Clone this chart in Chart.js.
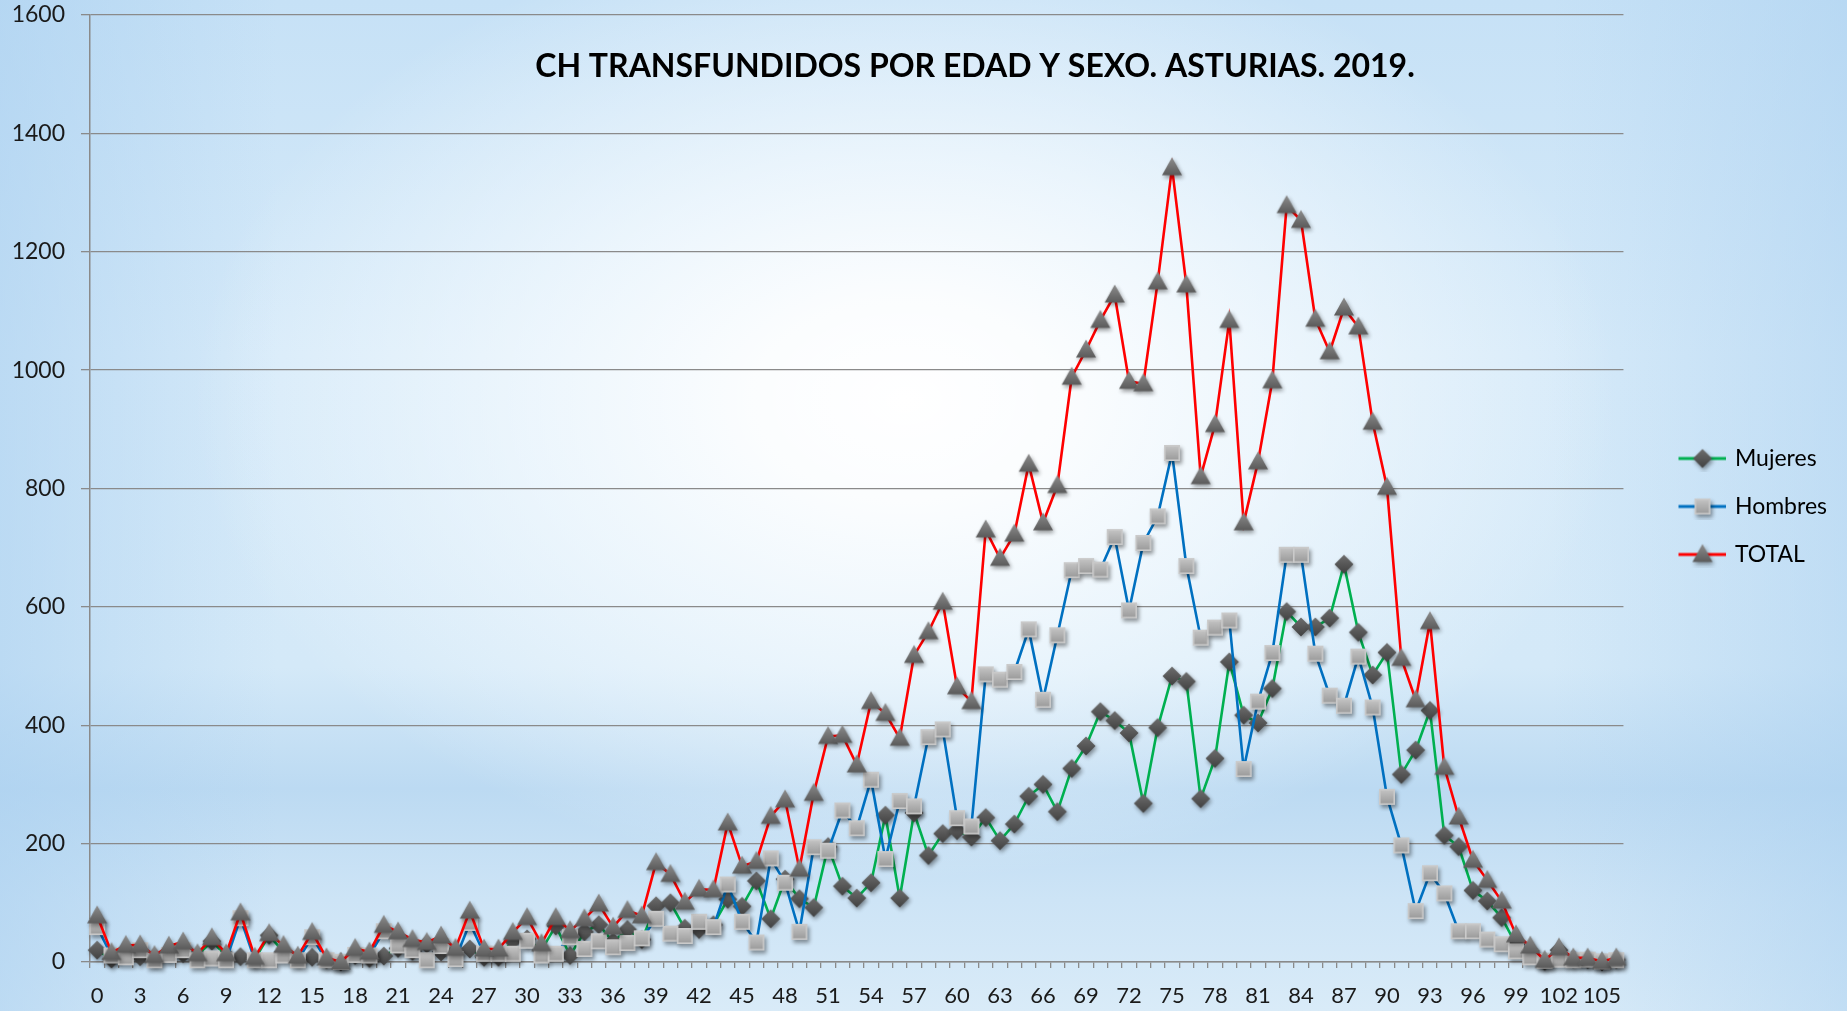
<!DOCTYPE html>
<html>
<head>
<meta charset="utf-8">
<script src="https://cdn.jsdelivr.net/npm/chart.js@4.4.1/dist/chart.umd.min.js"></script>
<style>
html,body{margin:0;padding:0;}
body{width:1847px;height:1011px;overflow:hidden;
background:
 radial-gradient(ellipse 950px 640px at 905px 400px, rgba(255,255,255,1) 0%, rgba(255,255,255,0.9) 16%, rgba(250,253,255,0.65) 38%, rgba(255,255,255,0) 75%),
 linear-gradient(90deg, rgba(170,208,240,0.6) 0%, rgba(175,212,240,0) 15%, rgba(175,212,240,0) 84%, rgba(170,208,240,0.5) 100%),
 linear-gradient(180deg, #c6e1f6 0%, #d6eaf9 35%, #d4e9f8 66%, #bcdaf2 78%, #cde4f6 89%, #d9ebf8 100%);}
#wrap{position:absolute;left:0;top:0;width:1847px;height:1011px;}
</style>
</head>
<body>
<div id="wrap"><canvas id="c" width="1847" height="1011"></canvas></div>
<script>
const chartTitle = 'CH TRANSFUNDIDOS POR EDAD Y SEXO. ASTURIAS. 2019.';
const ages = Array.from({length:107}, (_, i) => String(i));
const yTicks = [0,200,400,600,800,1000,1200,1400,1600];
const seriesNames = ['Mujeres','Hombres','TOTAL'];

const mujeres = [20,5,20,9,8,15,14,11,35,11,9,5,45,17,7,8,4,0,11,6,
  10,23,18,30,17,18,22,8,8,36,39,20,61,11,51,63,34,55,38,95,
  100,57,55,63,106,94,137,73,140,107,92,195,128,108,134,248,108,252,180,217,
  222,211,244,205,233,280,300,254,327,365,423,408,387,268,396,483,474,276,344,507,
  417,404,462,592,566,566,581,672,557,485,523,317,358,425,214,195,121,103,75,30,
  19,1,20,5,4,0,4];
const hombres = [59,11,8,20,3,12,20,3,6,3,74,3,3,11,3,42,3,0,12,11,
  52,28,20,3,27,5,66,14,14,14,36,11,14,42,22,35,25,32,40,73,
  48,44,68,59,131,68,33,175,134,51,194,188,256,226,308,174,272,263,380,393,
  243,229,486,477,490,562,443,552,662,669,663,718,594,708,753,860,669,548,565,577,
  326,440,522,688,688,521,450,433,516,430,279,197,86,150,116,52,52,38,30,18,
  8,2,4,3,4,1,3];
const total = [78,16,28,29,11,27,34,14,41,14,83,8,48,28,10,50,7,0,23,17,
  62,51,38,33,44,23,86,22,22,50,75,31,75,53,73,98,59,87,78,168,
  148,101,123,122,235,162,170,246,274,157,285,381,383,333,440,420,378,518,558,608,
  465,440,730,682,723,841,742,805,988,1034,1084,1127,981,977,1149,1342,1144,820,908,1084,
  742,845,982,1278,1253,1086,1031,1105,1073,912,802,513,443,575,329,245,172,138,103,46,
  27,3,24,7,7,1,7];

const FONT = 'Lato, "Open Sans", sans-serif';

function drawShape(g, kind, cx, cy){
  g.save();
  g.translate(cx, cy);
  g.shadowColor = 'rgba(0,0,0,0.40)';
  g.shadowBlur = 4;
  g.shadowOffsetX = 1.5;
  g.shadowOffsetY = 2.5;
  let grad;
  g.beginPath();
  if (kind === 'diamond') {
    g.moveTo(0,-9.5); g.lineTo(9.5,0); g.lineTo(0,9.5); g.lineTo(-9.5,0); g.closePath();
    grad = g.createLinearGradient(0,-9,0,9);
    grad.addColorStop(0,'#6c6c6c'); grad.addColorStop(1,'#424242');
    g.fillStyle = grad; g.fill();
  } else if (kind === 'square') {
    g.rect(-8,-8,16,16);
    grad = g.createLinearGradient(0,-8,0,8);
    grad.addColorStop(0,'#c6c6c6'); grad.addColorStop(1,'#989898');
    g.fillStyle = grad; g.fill();
    g.shadowColor = 'transparent';
    g.lineWidth = 1.6; g.strokeStyle = '#cacaca';
    g.strokeRect(-7.2,-7.2,14.4,14.4);
  } else {
    g.moveTo(0,-10.5); g.lineTo(10,7.5); g.lineTo(-10,7.5); g.closePath();
    grad = g.createLinearGradient(0,-10,0,7);
    grad.addColorStop(0,'#8c8c8c'); grad.addColorStop(1,'#5c5c5c');
    g.fillStyle = grad; g.fill();
  }
  g.restore();
}
function marker(kind){
  const c = document.createElement('canvas'); c.width = 36; c.height = 36;
  drawShape(c.getContext('2d'), kind, 18, 18);
  return c;
}
function legendIcon(kind, color){
  const c = document.createElement('canvas'); c.width = 81; c.height = 26;
  const g = c.getContext('2d');
  g.strokeStyle = color; g.lineWidth = 3;
  g.beginPath(); g.moveTo(33,13); g.lineTo(81,13); g.stroke();
  drawShape(g, kind, 57, 13);
  return c;
}

const colors = ['#00b050','#0070c0','#ff0000'];
const kinds = ['diamond','square','triangle'];
const values = [mujeres, hombres, total];

const datasets = seriesNames.map((name, i) => ({
  label: name,
  data: values[i],
  borderColor: colors[i],
  backgroundColor: colors[i],
  borderWidth: 2.6,
  tension: 0,
  pointStyle: marker(kinds[i]),
  pointRadius: 9,
  pointHoverRadius: 9,
  clip: false,
  order: 2 - i
}));

const titlePlugin = {
  id: 'titleText',
  afterDraw(chart){
    const ctx = chart.ctx;
    ctx.save();
    ctx.font = 'bold 32px ' + FONT;
    ctx.fillStyle = '#000000';
    ctx.textAlign = 'center';
    ctx.textBaseline = 'middle';
    ctx.fillText(chartTitle, 975, 67);
    ctx.restore();
  }
};

new Chart(document.getElementById('c'), {
  type: 'line',
  data: { labels: ages, datasets: datasets },
  plugins: [titlePlugin],
  options: {
    responsive: false,
    animation: false,
    events: [],
    layout: { padding: { left: 12, right: 10, top: 2, bottom: 0 } },
    plugins: {
      title: { display: false },
      tooltip: { enabled: false },
      legend: {
        position: 'right',
        align: 'center',
        labels: {
          usePointStyle: true,
          pointStyleWidth: 75,
          padding: 25,
          color: '#1a1a1a',
          font: { family: FONT, size: 23 },
          generateLabels(chart){
            return seriesNames.map((name, i) => ({
              text: name,
              pointStyle: legendIcon(kinds[i], colors[i]),
              fillStyle: 'transparent',
              strokeStyle: 'transparent',
              lineWidth: 0,
              datasetIndex: i,
              hidden: false
            }));
          }
        }
      }
    },
    scales: {
      x: {
        type: 'category',
        offset: true,
        grid: { display: true, drawOnChartArea: false, drawTicks: true, tickLength: 6, color: '#8a8a8a', lineWidth: 1.3, offset: true },
        border: { display: true, color: '#8a8a8a', width: 1.5 },
        ticks: {
          autoSkip: false, maxRotation: 0, minRotation: 0, padding: 15,
          color: '#1a1a1a', font: { family: FONT, size: 22 },
          callback(value, index){ return index % 3 === 0 ? ages[index] : ''; }
        },
        afterFit(scale){ scale.height = 49; }
      },
      y: {
        min: 0, max: 1600,
        grid: { color: '#8a8a8a', lineWidth: 1.3, drawTicks: true, tickLength: 9 },
        border: { display: true, color: '#8a8a8a', width: 1.5 },
        ticks: { stepSize: 200, padding: 16, color: '#1a1a1a', font: { family: FONT, size: 23 },
          callback(value){ return String(value); } },
        afterBuildTicks(scale){ scale.ticks = yTicks.map(v => ({ value: v })); },
        afterFit(scale){ scale.width = 78; scale.paddingTop = 15; scale.paddingBottom = 0; }
      }
    }
  }
});
</script>
</body>
</html>
